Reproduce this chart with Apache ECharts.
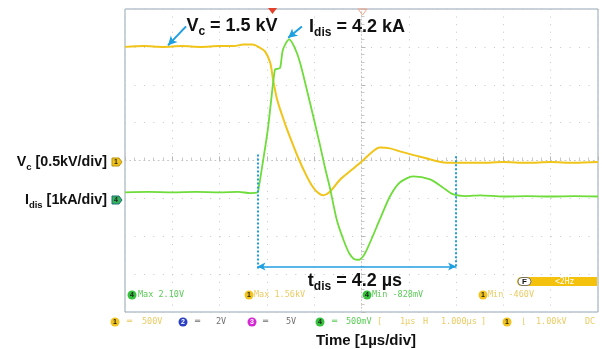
<!DOCTYPE html>
<html>
<head>
<meta charset="utf-8">
<script src="https://cdn.jsdelivr.net/npm/echarts@6/dist/echarts.min.js"></script>
<style>
  html, body { margin: 0; padding: 0; background: #fff; }
  #chart { width: 602px; height: 349px; }
</style>
</head>
<body>
<div id="chart"></div>
<script>
// Time base: µs relative to the screen centre, 1 µs/div, 10 divisions
const timeMin = -5;
const timeMax = 5;

// Channel 1: capacitor voltage Vc (kV), 0.5 kV/div
const vcTime = [-5.0, -4.6, -4.2, -3.8, -3.4, -3.0, -2.7, -2.5, -2.3, -2.15, -2.04, -1.93, -1.87, -1.79, -1.68, -1.58, -1.45, -1.32, -1.18, -1.05, -0.93, -0.81, -0.68, -0.45, -0.20, 0.01, 0.20, 0.39, 0.60, 0.81, 1.24, 1.81, 2.51, 3.0, 3.5, 4.0, 4.5, 5.0];
const vcKV   = [1.50, 1.51, 1.50, 1.51, 1.50, 1.51, 1.51, 1.53, 1.53, 1.49, 1.44, 1.29, 1.07, 0.82, 0.60, 0.42, 0.21, 0.01, -0.18, -0.33, -0.42, -0.46, -0.42, -0.25, -0.12, -0.01, 0.10, 0.17, 0.16, 0.12, 0.05, -0.03, -0.03, -0.02, -0.03, -0.02, -0.03, -0.02];

// Channel 4: discharge current Idis (kA), 1 kA/div
const idisTime = [-5.0, -4.5, -4.0, -3.5, -3.0, -2.6, -2.35, -2.2, -2.17, -2.08, -1.98, -1.90, -1.83, -1.78, -1.72, -1.66, -1.53, -1.42, -1.30, -1.09, -0.88, -0.77, -0.67, -0.52, -0.38, -0.26, -0.16, -0.06, 0.04, 0.14, 0.39, 0.60, 0.81, 1.09, 1.45, 1.72, 1.93, 2.2, 2.51, 3.0, 3.5, 4.0, 4.5, 5.0];
const idisKA   = [0.16, 0.17, 0.16, 0.17, 0.16, 0.17, 0.14, 0.16, 0.30, 1.00, 1.82, 2.70, 3.40, 3.42, 3.45, 3.93, 4.20, 4.00, 3.59, 2.53, 1.42, 0.80, 0.29, -0.58, -1.10, -1.45, -1.60, -1.62, -1.52, -1.28, -0.55, 0.05, 0.42, 0.58, 0.50, 0.29, 0.11, 0.06, 0.08, 0.05, 0.06, 0.05, 0.06, 0.05];

// Discharge duration bracket
const tdisStart = -2.2;   // µs
const tdis = 4.2;         // µs
const bracketLevel = -1.8; // kA (height of the double arrow)

// Annotated values
const vcLevel = 1.5;   // kV
const idisPeak = 4.2;  // kA

const BLUE = '#1e9fe0';
const YELLOW = '#f0c419';
const GREEN = '#6edc3a';
const FONT = "'Liberation Sans', Arial, sans-serif";
const MONO = "'DejaVu Sans Mono', monospace";

const zip = (a, b) => a.map((v, i) => [v, b[i]]);

// Bold text with a subscript part
function subText(x, y, main, sub, rest, size, subSize, align) {
  return {
    type: 'text', x: x, y: y, silent: true, z: 20,
    style: {
      text: '{m|' + main + '}{s|' + sub + '}{m|' + rest + '}',
      align: align || 'center', textAlign: align || 'center',
      verticalAlign: 'middle', textVerticalAlign: 'middle',
      rich: {
        m: { fontSize: size, fontWeight: 'bold', fontFamily: FONT, fill: '#111', lineHeight: size + 6 },
        s: { fontSize: subSize, fontWeight: 'bold', fontFamily: FONT, fill: '#111', lineHeight: subSize, verticalAlign: 'bottom' }
      }
    }
  };
}

function monoText(x, y, text, color, size) {
  return {
    type: 'text', x: x, y: y, silent: true, z: 20,
    style: {
      text: text, fill: color, fontSize: size || 8.5, fontFamily: MONO,
      align: 'left', textAlign: 'left', verticalAlign: 'middle', textVerticalAlign: 'middle', opacity: 0.85
    }
  };
}

function chanBadge(x, y, num, color, textColor) {
  return {
    type: 'group', silent: true, z: 20,
    children: [
      { type: 'circle', shape: { cx: x, cy: y, r: 4.5 }, style: { fill: color } },
      { type: 'text', x: x, y: y + 0.5, style: { text: num, fill: textColor || '#222', fontSize: 7, fontWeight: 'bold', fontFamily: FONT, align: 'center', textAlign: 'center', verticalAlign: 'middle', textVerticalAlign: 'middle' } }
    ]
  };
}

function levelMarker(y, num, fill, stroke) {
  return {
    type: 'group', silent: true, z: 20,
    children: [
      { type: 'polygon', shape: { points: [[112, y - 4], [119, y - 4], [122, y], [119, y + 4], [112, y + 4]] }, style: { fill: fill, stroke: stroke, lineWidth: 1 } },
      { type: 'text', x: 116, y: y + 0.5, style: { text: num, fill: '#222', fontSize: 7, fontWeight: 'bold', fontFamily: FONT, align: 'center', textAlign: 'center', verticalAlign: 'middle', textVerticalAlign: 'middle' } }
    ]
  };
}

const chart = echarts.init(document.getElementById('chart'), null, { renderer: 'canvas' });

const gridDots = '#c6c6c6';

chart.setOption({
  animation: false,
  backgroundColor: '#fff',
  grid: {
    left: 125, top: 9, width: 473, height: 303,
    show: true, borderColor: '#93a4b4', borderWidth: 1,
    containLabel: false, outerBoundsMode: 'none'
  },
  xAxis: {
    type: 'value', min: timeMin, max: timeMax, interval: 1,
    axisLabel: { show: false },
    axisLine: { show: true, onZero: true, onZeroAxisIndex: 0, lineStyle: { color: gridDots, type: [1, 3.73] } },
    axisTick: { show: true, inside: true, length: 4, lineStyle: { color: '#b8b8b8' } },
    minorTick: { show: true, splitNumber: 5, length: 3, lineStyle: { color: '#c8c8c8' } },
    splitLine: { show: true, lineStyle: { color: gridDots, width: 1, type: [1, 6.58] } }
  },
  yAxis: [
    {
      type: 'value', min: -2, max: 2, interval: 0.5,
      axisLabel: { show: false },
      axisLine: { show: true, onZero: true, lineStyle: { color: gridDots, type: [1, 2.79] } },
      axisTick: { show: true, inside: true, length: 4, lineStyle: { color: '#b8b8b8' } },
      minorTick: { show: true, splitNumber: 5, length: 3, lineStyle: { color: '#c8c8c8' } },
      splitLine: { show: true, lineStyle: { color: gridDots, width: 1, type: [1, 8.46] } }
    },
    {
      type: 'value', min: -3, max: 5, interval: 1, show: false,
      splitLine: { show: false }
    }
  ],
  series: [
    {
      name: 'Vc', type: 'line', yAxisIndex: 0, z: 3,
      data: zip(vcTime, vcKV),
      showSymbol: false, smooth: 0.3,
      lineStyle: { color: YELLOW, width: 2 },
      markLine: {
        silent: true, symbol: ['none', 'arrow'], symbolSize: [7, 9],
        lineStyle: { color: BLUE, width: 2, type: 'solid' },
        label: { show: false },
        data: [[{ coord: [-3.71, 1.77] }, { coord: [-4.09, vcLevel + 0.02] }]]
      }
    },
    {
      name: 'Idis', type: 'line', yAxisIndex: 1, z: 4,
      data: zip(idisTime, idisKA),
      showSymbol: false, smooth: 0.25,
      lineStyle: { color: GREEN, width: 1.8 },
      markLine: {
        silent: true, symbol: ['none', 'none'], symbolSize: [7, 9],
        label: { show: false },
        lineStyle: { color: BLUE, width: 2, type: 'solid' },
        data: [
          [{ coord: [-1.26, 4.54], symbol: 'none' }, { coord: [-1.55, idisPeak + 0.04], symbol: 'arrow' }],
          [{ coord: [tdisStart, 1.16], lineStyle: { type: [2, 2], width: 2 } }, { coord: [tdisStart, bracketLevel - 0.05] }],
          [{ coord: [tdisStart + tdis, 1.11], lineStyle: { type: [2, 2], width: 2 } }, { coord: [tdisStart + tdis, bracketLevel - 0.05] }],
          [{ coord: [tdisStart, bracketLevel], symbol: 'arrow', symbolSize: [6, 8], lineStyle: { width: 1.5 } }, { coord: [tdisStart + tdis, bracketLevel], symbol: 'arrow', symbolSize: [6, 8] }]
        ]
      }
    }
  ],
  graphic: [
    // trace annotations
    subText(232, 26, 'V', 'c', ' = ' + vcLevel.toFixed(1) + ' kV', 18, 12),
    subText(357, 27, 'I', 'dis', ' = ' + idisPeak.toFixed(1) + ' kA', 18, 12),
    subText(355, 281, 't', 'dis', ' = ' + tdis.toFixed(1) + ' µs', 18, 12),
    // channel scale labels
    subText(107, 162, 'V', 'c', ' [0.5kV/div]', 14.3, 9.5, 'right'),
    subText(107, 200, 'I', 'dis', ' [1kA/div]', 14.3, 9.5, 'right'),
    levelMarker(162, '1', '#f2c31c', '#b8900a'),
    levelMarker(200, '4', '#32b45a', '#1a6e7a'),
    // time axis title
    { type: 'text', x: 366, y: 341, silent: true, style: { text: 'Time [1µs/div]', fontSize: 15, fontWeight: 'bold', fontFamily: FONT, fill: '#111', align: 'center', textAlign: 'center', verticalAlign: 'middle', textVerticalAlign: 'middle' } },
    // trigger position markers on the top edge
    { type: 'polygon', silent: true, z: 20, shape: { points: [[268, 8], [277, 8], [272.5, 14]] }, style: { fill: '#e4402a' } },
    { type: 'polygon', silent: true, z: 20, shape: { points: [[358, 9], [367, 9], [362.5, 15]] }, style: { fill: 'none', stroke: '#f0a58c', lineWidth: 1 } },
    // measurement readouts
    chanBadge(132, 295, '4', '#34c23c'), monoText(138, 295, 'Max 2.10V', '#3fc23a'),
    chanBadge(249, 295, '1', '#f2c31c'), monoText(254, 295, 'Max 1.56kV', '#e8c24a'),
    chanBadge(367, 295, '4', '#34c23c'), monoText(372, 295, 'Min -828mV', '#3fc23a'),
    chanBadge(483, 295, '1', '#f2c31c'), monoText(488, 295, 'Min -460V', '#e8c24a'),
    // trigger frequency box
    { type: 'rect', silent: true, z: 20, shape: { x: 517, y: 277, width: 80, height: 9, r: [4.5, 0, 0, 4.5] }, style: { fill: '#f4c20d' } },
    { type: 'rect', silent: true, z: 21, shape: { x: 518, y: 277.5, width: 13, height: 8, r: 4 }, style: { fill: '#fff', stroke: '#555', lineWidth: 0.8 } },
    { type: 'text', x: 524.5, y: 281.5, silent: true, z: 22, style: { text: 'F', fill: '#111', fontSize: 8, fontWeight: 'bold', fontFamily: FONT, align: 'center', textAlign: 'center', verticalAlign: 'middle', textVerticalAlign: 'middle' } },
    { type: 'text', x: 555, y: 281.5, silent: true, z: 22, style: { text: '<2Hz', fill: '#fff', fontSize: 8, fontFamily: MONO, align: 'left', textAlign: 'left', verticalAlign: 'middle', textVerticalAlign: 'middle' } },
    // channel / timebase status line
    chanBadge(115, 322, '1', '#f2c31c'), monoText(127, 322, '═', '#e8c24a'), monoText(142, 322, '500V', '#e8c24a'),
    chanBadge(183, 322, '2', '#2a3fc4', '#fff'), monoText(195, 322, '═', '#555'), monoText(216, 322, '2V', '#555'),
    chanBadge(252, 322, '3', '#d428d4', '#fff'), monoText(263, 322, '═', '#555'), monoText(286, 322, '5V', '#555'),
    chanBadge(320, 322, '4', '#34c23c'), monoText(332, 322, '═', '#3fc23a'), monoText(346, 322, '500mV', '#3fc23a'),
    monoText(377, 322, '[', '#e8c24a'), monoText(400, 322, '1µs', '#e8c24a'), monoText(423, 322, 'H', '#e8c24a'),
    monoText(441, 322, '1.000µs', '#e8c24a'), monoText(481, 322, ']', '#e8c24a'),
    chanBadge(507, 322, '1', '#f2c31c'), monoText(521, 322, '⌊', '#e8c24a'), monoText(536, 322, '1.00kV', '#e8c24a'),
    monoText(585, 322, 'DC', '#e8c24a')
  ]
});
</script>
</body>
</html>
